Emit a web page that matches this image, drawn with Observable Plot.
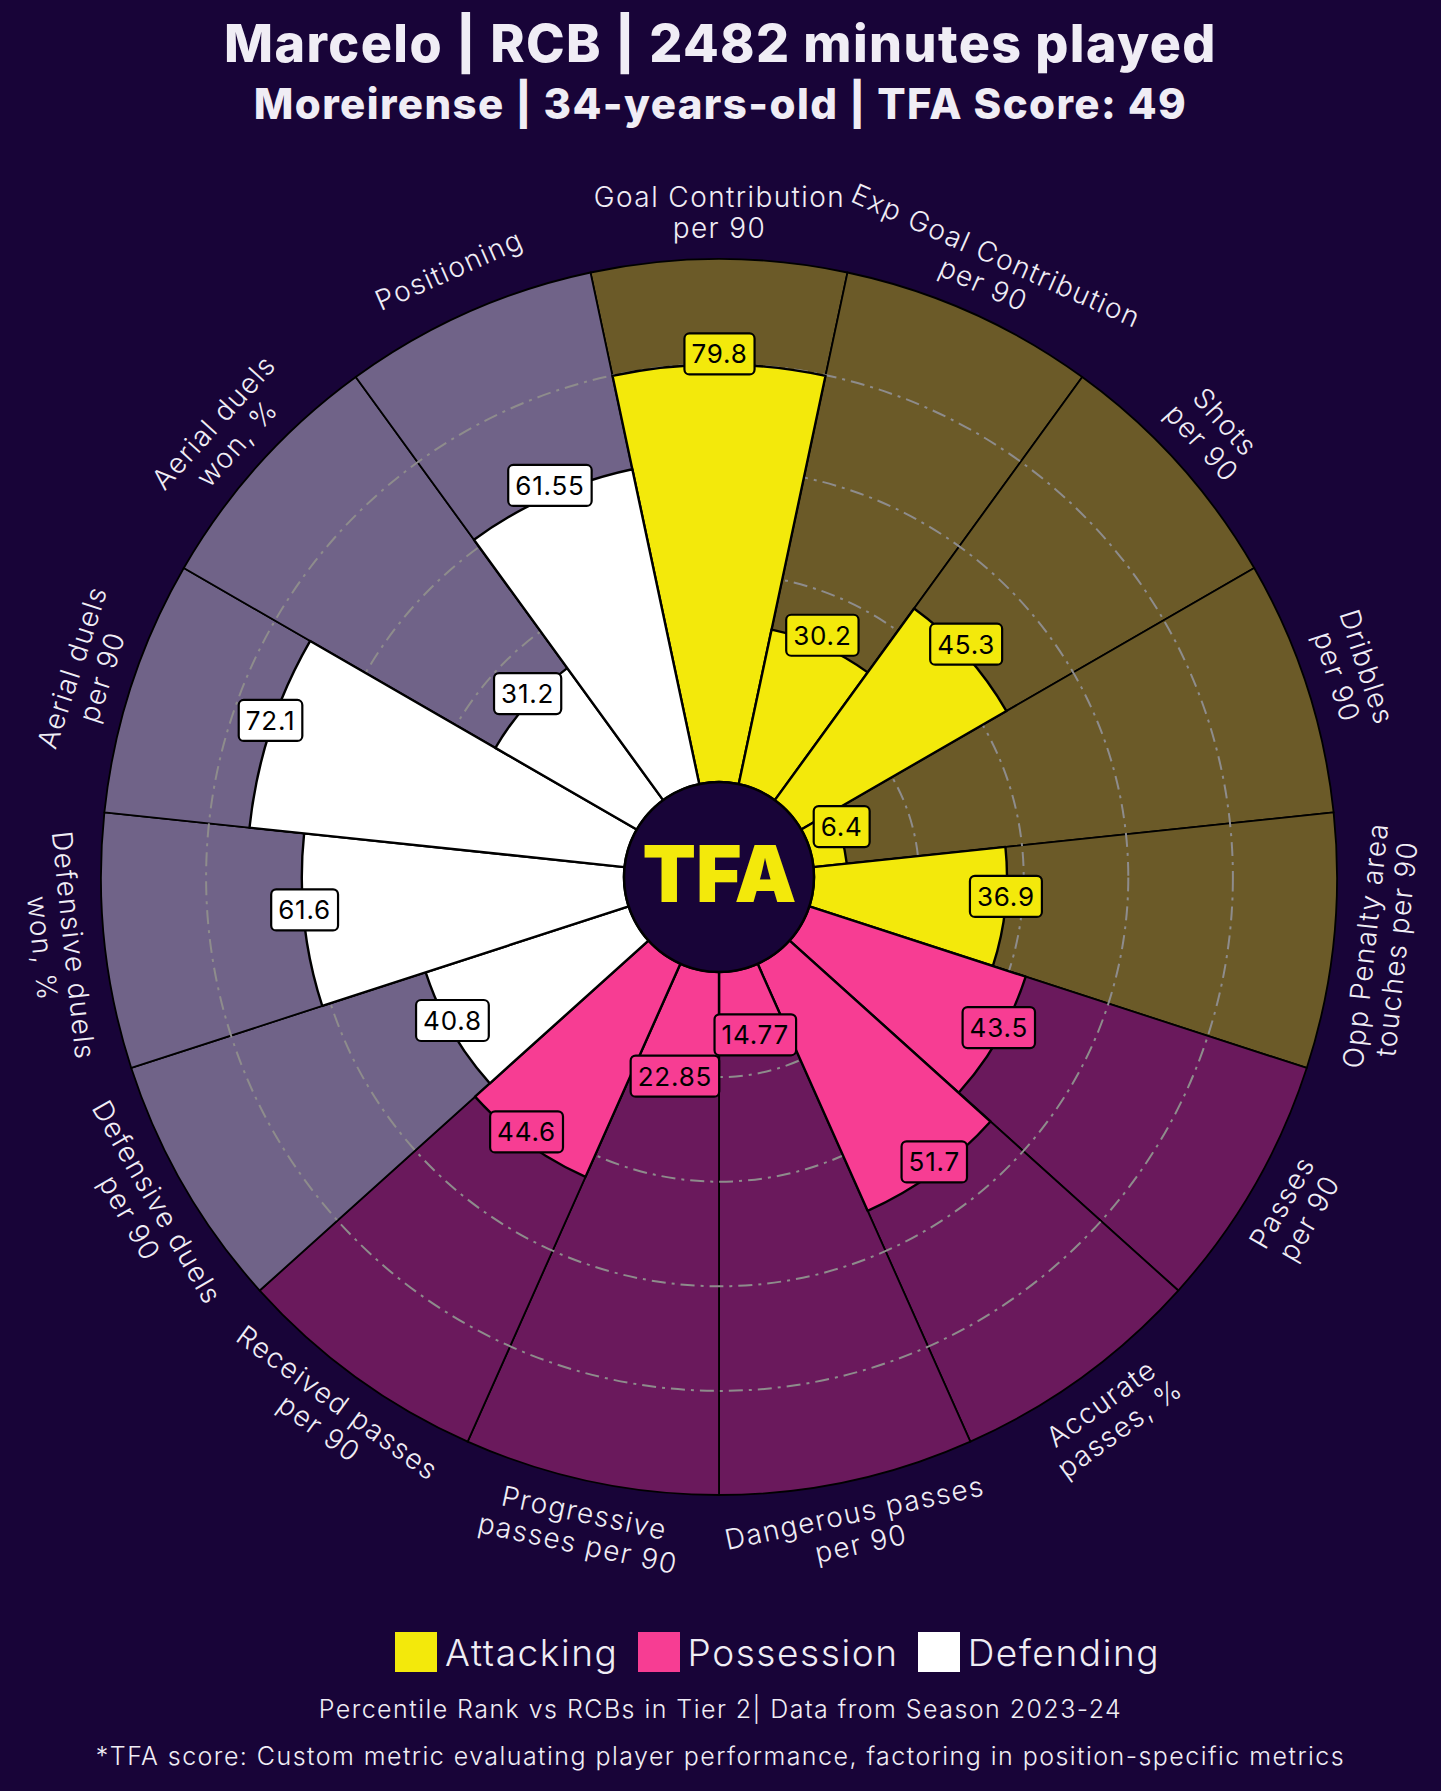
<!DOCTYPE html>
<html>
<head>
<meta charset="utf-8">
<script src="https://cdn.jsdelivr.net/npm/d3@7"></script>
<script src="https://cdn.jsdelivr.net/npm/@observablehq/plot@0.6"></script>
<style>
  html, body { margin: 0; padding: 0; background: #180438; }
  body { width: 1441px; height: 1791px; overflow: hidden; color: #f0edf5; }
  #header { height: 140px; box-sizing: border-box; padding-top: 13px; text-align: center; font-family: "Inter", sans-serif; font-weight: 800; }
  #title { font-size: 52px; line-height: 62px; letter-spacing: 1.4px; }
  #subtitle { font-size: 42px; line-height: 50px; margin-top: 4px; letter-spacing: 1.4px; }
  #legend { height: 62px; box-sizing: border-box; padding-top: 22px; padding-left: 395px; display: flex; align-items: center; font-family: "Inter", sans-serif; font-weight: 300; font-size: 37px; letter-spacing: 1.6px; }
  .sw { width: 42px; height: 40px; margin-right: 8px; }
  .item { display: flex; align-items: center; margin-right: 19px; height: 40px; }
  .cap { text-align: center; font-family: "Inter", sans-serif; font-weight: 300; font-size: 25px; line-height: 30px; letter-spacing: 1.45px; }
  #cap1 { margin-top: 22px; }
  #cap2 { margin-top: 17px; }
  g.catlabel text { letter-spacing: 1.4px; }
  g.vlabel text { letter-spacing: 0.8px; }
</style>
</head>
<body>
<div id="header">
  <div id="title"></div>
  <div id="subtitle"></div>
</div>
<div id="chart"></div>
<div id="legend"></div>
<div class="cap" id="cap1"></div>
<div class="cap" id="cap2"></div>
<script>
// ---- data ----
const titleText = "Marcelo | RCB | 2482 minutes played";
const subtitleText = "Moreirense | 34-years-old | TFA Score: 49";
const caption1 = "Percentile Rank vs RCBs in Tier 2| Data from Season 2023-24";
const caption2 = "*TFA score: Custom metric evaluating player performance, factoring in position-specific metrics";

const categories = [
  "Goal Contribution\nper 90",
  "Exp Goal Contribution\nper 90",
  "Shots\nper 90",
  "Dribbles\nper 90",
  "Opp Penalty area\ntouches per 90",
  "Passes\nper 90",
  "Accurate\npasses, %",
  "Dangerous passes\nper 90",
  "Progressive\npasses per 90",
  "Received passes\nper 90",
  "Defensive duels\nper 90",
  "Defensive duels\nwon, %",
  "Aerial duels\nper 90",
  "Aerial duels\nwon, %",
  "Positioning"
];
const percentiles = [79.8, 30.2, 45.3, 6.4, 36.9, 43.5, 51.7, 14.77, 22.85, 44.6, 40.8, 61.6, 72.1, 31.2, 61.55];
const groups = ["Attacking","Attacking","Attacking","Attacking","Attacking",
                "Possession","Possession","Possession","Possession","Possession",
                "Defending","Defending","Defending","Defending","Defending"];
const groupNames = ["Attacking", "Possession", "Defending"];
const barColors = ["#f3e90b", "#f73d93", "#ffffff"];
const bgColors = ["#6b5a28", "#6a195c", "#706388"];
const gridTicks = [20, 40, 60, 80];

// ---- layout ----
const W = 1441, H = 1470;
const CX = 719, CY = 737;      // centre of the polar chart in svg pixels
const K = 5.23;                // pixels per percentile point
const HOLE_PX = 95;
const HOLE = HOLE_PX / K;      // hole in percentile units
const STEP = 360 / categories.length;
const LABEL_R = 109;

const rows = categories.map((c, i) => ({
  category: c,
  value: percentiles[i],
  group: groups[i],
  angle: i * STEP
}));
const colorOf = g => barColors[groupNames.indexOf(g)];
const bgOf = g => bgColors[groupNames.indexOf(g)];
const rad = a => a * Math.PI / 180;
const px = (v, a) => (v + HOLE) * Math.sin(rad(a));
const py = (v, a) => (v + HOLE) * Math.cos(rad(a));

function wedges(kind) {
  return (index, scales) => {
    const g = d3.create("svg:g");
    const cx = scales.x(0), cy = scales.y(0);
    const arc = d3.arc();
    const half = rad(STEP / 2);
    for (const d of rows) {
      const a = rad(d.angle);
      g.append("path")
        .attr("transform", `translate(${cx},${cy})`)
        .attr("d", arc({
          innerRadius: scales.r(0),
          outerRadius: scales.r(kind === "bg" ? 100 : d.value),
          startAngle: a - half,
          endAngle: a + half
        }))
        .attr("fill", kind === "bg" ? bgOf(d.group) : colorOf(d.group))
        .attr("stroke", "#000")
        .attr("stroke-width", kind === "bg" ? 1.8 : 2.4)
        .attr("stroke-linejoin", "round");
    }
    return g.node();
  };
}

function hole(index, scales) {
  return d3.create("svg:circle")
    .attr("cx", scales.x(0)).attr("cy", scales.y(0))
    .attr("r", scales.r(0))
    .attr("fill", "#180438").attr("stroke", "#000").attr("stroke-width", 2.5)
    .node();
}

const chart = Plot.plot({
  width: W,
  height: H,
  margin: 0,
  x: {domain: [-CX / K, (W - CX) / K], range: [0, W], axis: null},
  y: {domain: [-(H - CY) / K, CY / K], range: [H, 0], axis: null},
  r: {type: "linear", domain: [0, 100], range: [HOLE_PX, HOLE_PX + 100 * K]},
  style: {background: "transparent", fontFamily: "Inter, sans-serif", overflow: "visible"},
  marks: [
    wedges("bg"),
    Plot.dot(gridTicks, {x: () => 0, y: () => 0, r: d => d, fill: "none", stroke: "#8e8c8c", strokeWidth: 2, strokeDasharray: "14 6 3 6"}),
    wedges("bar"),
    hole,
    Plot.text(["TFA"], {x: () => 0, y: () => 0, text: d => d, fill: "#f3e90b", fontSize: 78, fontWeight: 900, textAnchor: "middle", lineAnchor: "middle"}),
    Plot.text(rows, {
      x: d => px(d.value, d.angle),
      y: d => py(d.value, d.angle),
      text: d => String(d.value),
      dy: -10,
      fontSize: 26,
      fontWeight: 400,
      fill: "#000",
      textAnchor: "middle",
      className: "vlabel"
    }),
    Plot.text(rows, {
      x: d => px(LABEL_R, d.angle),
      y: d => py(LABEL_R, d.angle),
      text: "category",
      rotate: d => (d.angle > 90 && d.angle < 270) ? d.angle - 180 : d.angle,
      fontSize: 28,
      fontWeight: 300,
      lineHeight: 1.12,
      fill: "#f0edf5",
      textAnchor: "middle",
      lineAnchor: "middle",
      className: "catlabel"
    })
  ]
});

document.getElementById("title").textContent = titleText;
document.getElementById("subtitle").textContent = subtitleText;
document.getElementById("chart").append(chart);

// boxes behind the value labels
document.querySelectorAll("g.vlabel").forEach(g => {
  const texts = Array.from(g.querySelectorAll("text"));
  texts.forEach((t, i) => {
    const bb = t.getBBox();
    const rect = document.createElementNS("http://www.w3.org/2000/svg", "rect");
    const padX = 7, padY = 5;
    rect.setAttribute("x", bb.x - padX);
    rect.setAttribute("y", bb.y - padY);
    rect.setAttribute("width", bb.width + 2 * padX);
    rect.setAttribute("height", bb.height + 2 * padY);
    rect.setAttribute("rx", 5);
    rect.setAttribute("fill", colorOf(rows[i].group));
    rect.setAttribute("stroke", "#000");
    rect.setAttribute("stroke-width", 2.2);
    const tr = t.getAttribute("transform");
    if (tr) rect.setAttribute("transform", tr);
    g.insertBefore(rect, t);
  });
});

// legend
const legend = d3.select("#legend");
groupNames.forEach((name, i) => {
  const item = legend.append("div").attr("class", "item");
  item.append("div").attr("class", "sw").style("background", barColors[i]);
  item.append("span").text(name);
});
document.getElementById("cap1").textContent = caption1;
document.getElementById("cap2").textContent = caption2;
</script>
</body>
</html>
